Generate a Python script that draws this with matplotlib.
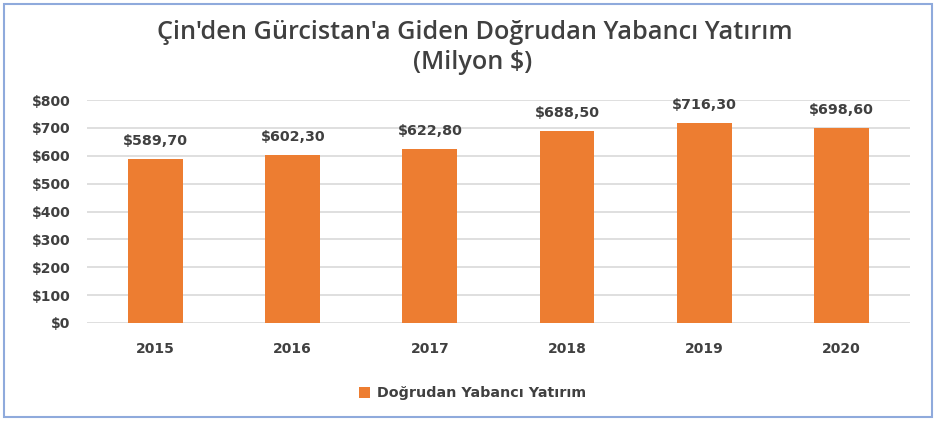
import matplotlib
matplotlib.use("Agg")
import matplotlib.pyplot as plt
from matplotlib.patches import Rectangle
from matplotlib.ticker import FuncFormatter

years = ["2015", "2016", "2017", "2018", "2019", "2020"]
values = [589.70, 602.30, 622.80, 688.50, 716.30, 698.60]
labels = ["$589,70", "$602,30", "$622,80", "$688,50", "$716,30", "$698,60"]
title_line1 = "Çin'den Gürcistan'a Giden Doğrudan Yabancı Yatırım"
title_line2 = "(Milyon $)"
series_name = "Doğrudan Yabancı Yatırım"

plt.rcParams['font.family'] = ['DejaVu Sans']
txt = "#404040"

fig = plt.figure(figsize=(9.36, 4.22), dpi=100)
ax = fig.add_axes([0.093, 0.2346, 0.879, 0.5284])

x = range(len(years))
bars = ax.bar(x, values, width=0.4, color="#ED7D31", zorder=3, label=series_name)
for xi, v, lab in zip(x, values, labels):
    ax.annotate(lab, (xi, v), xytext=(0, 8), textcoords="offset points",
                ha="center", va="bottom", fontsize=10.3, fontweight="bold", color=txt)

ax.set_ylim(0, 800)
ax.set_xlim(-0.5, len(years) - 0.5)
ax.set_yticks(range(0, 801, 100))
ax.yaxis.set_major_formatter(FuncFormatter(lambda v, p: f"${int(v)}"))
ax.set_xticks(list(x))
ax.set_xticklabels(years)
ax.grid(axis="y", color="#D9D9D9", linewidth=1.2, zorder=0)
for s in ax.spines.values():
    s.set_visible(False)
ax.tick_params(axis="both", length=0, labelsize=10, labelcolor=txt)
ax.tick_params(axis="y", pad=12)
ax.tick_params(axis="x", pad=14)
for t in ax.get_xticklabels() + ax.get_yticklabels():
    t.set_fontweight("bold")

tkw = dict(ha="center", va="center", fontsize=18.2, color=txt,
           family=["Open Sans", "DejaVu Sans"], fontweight="semibold")
fig.text(0.507, 0.922, title_line1, **tkw)
fig.text(0.505, 0.853, title_line2, **tkw)

leg = fig.legend(loc="center", bbox_to_anchor=(0.505, 0.068), frameon=False,
                 fontsize=10.3, handlelength=0.8, handleheight=0.8,
                 handletextpad=0.5)
for t in leg.get_texts():
    t.set_color(txt)
    t.set_fontweight("bold")

fig.patches.append(Rectangle((0.0043, 0.0118), 0.9915, 0.9787, transform=fig.transFigure,
                             fill=False, edgecolor="#8FAADC", linewidth=1.5))

fig.savefig("out.png", dpi=100)
